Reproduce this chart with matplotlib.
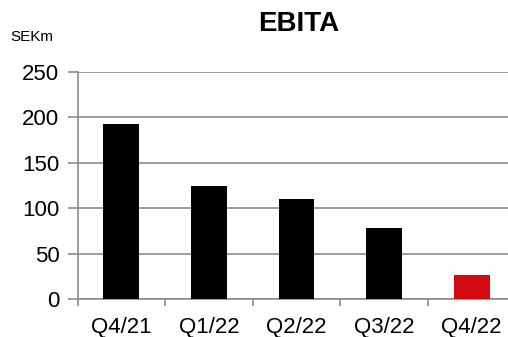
import matplotlib.pyplot as plt
import numpy as np

quarters = ["Q4/21", "Q1/22", "Q2/22", "Q3/22", "Q4/22"]
ebita = [193, 124, 110, 78, 26]
bar_colors = ["black", "black", "black", "black", "#d40a12"]
y_ticks = [0, 50, 100, 150, 200, 250]

GRID = "#8c8c8c"
plt.rcParams["font.family"] = ["Liberation Sans", "DejaVu Sans"]

fig = plt.figure(figsize=(5.08, 3.37), dpi=100)
# axes runs slightly past the right edge, like the source
ax = fig.add_axes([77.5 / 508, 1 - 299 / 337, 438 / 508, 227 / 337])

x = np.arange(len(quarters))
ax.bar(x, ebita, width=0.41, color=bar_colors, zorder=3)

ax.set_xlim(-0.5, len(quarters) - 0.5)
ax.set_ylim(0, 250)
ax.set_yticks(y_ticks)
ax.set_yticklabels([str(v) for v in y_ticks], fontsize=16)
ax.yaxis.grid(True, color=GRID, lw=1.2, zorder=0)
ax.tick_params(axis="y", length=7, width=1.2, color=GRID, pad=6)

ax.set_xticks(x)
ax.set_xticklabels(quarters, fontsize=16)
ax.tick_params(axis="x", which="major", length=0, pad=13)
ax.set_xticks(np.arange(len(quarters)) - 0.5, minor=True)
ax.tick_params(axis="x", which="minor", length=5, width=1.2, color=GRID)

for side in ["top", "right"]:
    ax.spines[side].set_visible(False)
for side in ["left", "bottom"]:
    ax.spines[side].set_color(GRID)
    ax.spines[side].set_linewidth(1.2)

fig.text(299 / 508, 1 - 24 / 337, "EBITA", ha="center", va="center",
         fontsize=20, fontweight="bold",
         family=["Liberation Sans Narrow", "Liberation Sans", "DejaVu Sans"])
fig.text(32 / 508, 1 - 37 / 337, "SEKm", ha="center", va="center", fontsize=11)

fig.savefig("out.png", dpi=100)
